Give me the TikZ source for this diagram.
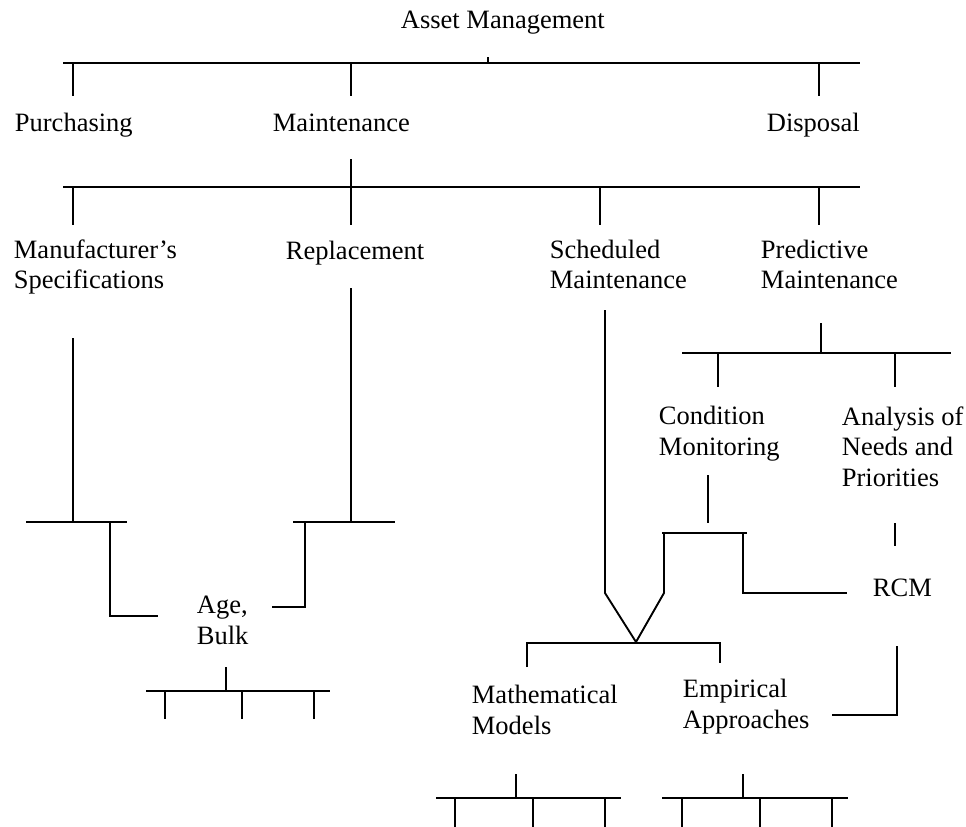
\documentclass[tikz,border=0pt]{standalone}
\usepackage{fontspec}
\setmainfont{Liberation Serif}
\begin{document}
\begin{tikzpicture}[x=0.4528pt,y=-0.4528pt,line width=0.85pt,
  lbl/.style={anchor=base west,inner sep=0pt,align=left,
    font=\fontsize{12}{13.8}\selectfont},
  tree/.style={line cap=butt,line join=miter}]
\useasboundingbox (0,0) rectangle (966,827);

% ---------- labels (base anchor sits on the last line) ----------
\node[lbl] (am)    at (400,29)  {Asset Management};
\node[lbl] (purch) at (14,131)  {Purchasing};
\node[lbl] (maint) at (272,131) {Maintenance};
\node[lbl] (disp)  at (766,131) {Disposal};
\node[lbl] (manuf) at (13,289)  {Manufacturer’s\\Specifications};
\node[lbl] (repl)  at (285,259) {Replacement};
\node[lbl] (sched) at (549,289) {Scheduled\\Maintenance};
\node[lbl] (pred)  at (760,289) {Predictive\\Maintenance};
\node[lbl] (cond)  at (658,455) {Condition\\Monitoring};
\node[lbl] (anal)  at (841,486) {Analysis of\\Needs and\\Priorities};
\node[lbl] (age)   at (196,644) {Age,\\Bulk};
\node[lbl] (rcm)   at (872,596) {RCM};
\node[lbl] (math)  at (471,734) {Mathematical\\Models};
\node[lbl] (emp)   at (682,728) {Empirical\\Approaches};

% ---------- bar coordinates ----------
\coordinate (b1l) at (63,63);   \coordinate (b1r) at (860,63);
\coordinate (b2l) at (63,187);  \coordinate (b2r) at (860,187);
\coordinate (b3l) at (682,353); \coordinate (b3r) at (951,353);
\coordinate (mfl) at (26,522);  \coordinate (mfr) at (127,522);
\coordinate (rpl) at (293,522); \coordinate (rpr) at (395,522);
\coordinate (cml) at (662,533); \coordinate (cmr) at (747,533);
\coordinate (vtip) at (636,642);
\coordinate (abl) at (146,691); \coordinate (abr) at (330,691);
\coordinate (mml) at (436,798); \coordinate (mmr) at (621,798);
\coordinate (eal) at (662,798); \coordinate (ear) at (848,798);

\begin{scope}[tree]
% asset management -> purchasing / maintenance / disposal
\draw (488,57) -- (488,63);
\draw (b1l) -- (b1r);
\foreach \x in {73,351,819} \draw (\x,63) -- (\x,96);

% maintenance -> four kinds
\draw (351,159) -- (351,187);
\draw (b2l) -- (b2r);
\foreach \x in {73,351,600,819} \draw (\x,187) -- (\x,225);

% manufacturer's specifications -> age, bulk
\draw (73,338) -- (73,522);
\draw (mfl) -- (mfr);
\draw (110,522) -- (110,616) -- (158,616);

% replacement -> age, bulk
\draw (351,288) -- (351,522);
\draw (rpl) -- (rpr);
\draw (305,522) -- (305,607) -- (272,607);

% age, bulk subtree
\draw (226,667) -- (226,691);
\draw (abl) -- (abr);
\foreach \x in {165,242,314} \draw (\x,691) -- (\x,719);

% predictive maintenance subtree
\draw (821,323) -- (821,353);
\draw (b3l) -- (b3r);
\foreach \x in {718,895} \draw (\x,353) -- (\x,387);

% condition monitoring bracket
\draw (708,475) -- (708,523);
\draw (cml) -- (cmr);
\draw (664,533) -- (664,593) -- (vtip);
\draw (743,533) -- (743,593) -- (847,593);

% scheduled maintenance -> models
\draw (605,310) -- (605,593) -- (vtip);

% analysis -> rcm
\draw (895,523) -- (895,546);

% split into models and approaches
\draw (527,667) -- (527,643) -- (720,643) -- (720,663);

% rcm -> empirical approaches
\draw (897,646) -- (897,715) -- (832,715);

% mathematical models subtree
\draw (516,774) -- (516,798);
\draw (mml) -- (mmr);
\foreach \x in {455,533,605} \draw (\x,798) -- (\x,827);

% empirical approaches subtree
\draw (743,774) -- (743,798);
\draw (eal) -- (ear);
\foreach \x in {682,760,832} \draw (\x,798) -- (\x,827);
\end{scope}
\end{tikzpicture}
\end{document}
